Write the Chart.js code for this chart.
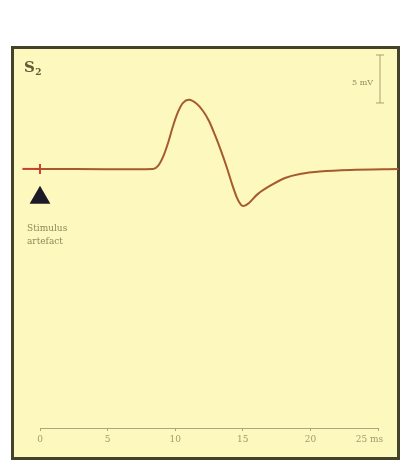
<!DOCTYPE html>
<html>
<head>
<meta charset="utf-8">
<script src="https://cdn.jsdelivr.net/npm/chart.js@4.4.1/dist/chart.umd.min.js"></script>
<style>
  html, body { margin: 0; padding: 0; background: #ffffff; }
  #wrap { width: 401px; height: 461px; position: relative; }
</style>
</head>
<body>
<div id="wrap"><canvas id="c"></canvas></div>
<script>
// ---- data ----
const timeMs    = [-1.3, 0, 8.36, 8.73, 9.1, 9.47, 9.84, 10.21, 10.58, 11.02, 11.61, 12.06, 12.5, 12.94, 13.39, 13.83, 14.2, 14.57, 14.87, 15.09, 15.46, 16.12, 17.0, 18.12, 19.23, 20.7, 22.93, 26.5];
const amplitude = [0, 0, 0, 0.31, 1.25, 2.71, 4.48, 5.94, 6.88, 7.2, 6.77, 6.04, 5.0, 3.54, 1.88, 0.1, -1.56, -3.02, -3.75, -3.85, -3.54, -2.6, -1.77, -0.94, -0.52, -0.26, -0.1, 0];
const artefactTime = [0];
const artefactAmp  = [0];
const markerAmp    = [-3.0];
const scaleBarMv   = [6.875, 11.875];   // a 5 mV calibration bar
const xTicks       = [0, 5, 10, 15, 20, 25];
const xTickLabels  = ['0', '5', '10', '15', '20', '25 ms      '];

// ---- layout constants ----
const BAR_X = 25.15;
const BG = '#fdf8bd';
const FRAME = '#44422a';
const AXIS = '#aaa87a';
const TXT = '#8c8a5a';

const trace = timeMs.map((t, i) => ({ x: t, y: amplitude[i] }));
const artefact = artefactTime.map((t, i) => ({ x: t, y: artefactAmp[i] }));
const marker = artefactTime.map((t, i) => ({ x: t, y: markerAmp[i] }));
const bar = scaleBarMv.map(v => ({ x: BAR_X, y: v }));

const framePlugin = {
  id: 'frame',
  beforeDraw(chart) {
    const ctx = chart.ctx;
    ctx.save();
    ctx.fillStyle = '#ffffff';
    ctx.fillRect(0, 0, chart.width, chart.height);
    ctx.fillStyle = BG;
    ctx.fillRect(12, 47, 387, 412);
    ctx.strokeStyle = FRAME;
    ctx.lineWidth = 3;
    ctx.strokeRect(12.5, 47.5, 386, 411);
    ctx.restore();
  },
  afterDraw(chart) {
    const ctx = chart.ctx;
    ctx.save();
    ctx.textBaseline = 'alphabetic';
    ctx.textAlign = 'left';
    // S2 panel label
    ctx.fillStyle = '#5e5c36';
    ctx.font = 'bold 15px "DejaVu Serif"';
    ctx.fillText('S', 24, 72);
    const w = ctx.measureText('S').width;
    ctx.font = 'bold 9px "DejaVu Serif"';
    ctx.fillText('2', 24 + w + 0.5, 75);
    // 5 mV
    ctx.fillStyle = TXT;
    ctx.font = '8px "DejaVu Serif"';
    ctx.textAlign = 'right';
    ctx.fillText('5 mV', 373, 85);
    // Stimulus artefact
    ctx.textAlign = 'left';
    ctx.font = '9px "DejaVu Serif"';
    ctx.fillText('Stimulus', 27, 231);
    ctx.fillText('artefact', 27, 244);
    ctx.restore();
  }
};

new Chart(document.getElementById('c'), {
  type: 'line',
  data: {
    datasets: [
      {
        label: 'trace',
        data: trace,
        borderColor: '#a65a30',
        borderWidth: 2,
        pointRadius: 0,
        tension: 0.3,
        clip: false,
        segment: {
          borderColor: c => (c.p1DataIndex <= 1 ? '#c0442c' : undefined)
        }
      },
      {
        label: 'artefact',
        data: artefact,
        showLine: false,
        pointStyle: 'cross',
        pointRadius: 5,
        pointBorderWidth: 2,
        pointBorderColor: '#d8402e',
        clip: false
      },
      {
        label: 'marker',
        data: marker,
        showLine: false,
        pointStyle: 'triangle',
        pointRadius: 12,
        pointBorderWidth: 0,
        pointBackgroundColor: '#1c1a26',
        pointBorderColor: '#1c1a26',
        clip: false
      },
      {
        label: 'scale',
        data: bar,
        borderColor: '#a4a272',
        borderWidth: 1,
        pointStyle: 'line',
        pointRadius: 4,
        pointBorderWidth: 1,
        pointBorderColor: '#a4a272',
        clip: false
      }
    ]
  },
  options: {
    responsive: true,
    maintainAspectRatio: false,
    animation: false,
    events: [],
    layout: { padding: { left: 40, right: 23, top: 49, bottom: 0 } },
    plugins: { legend: { display: false }, tooltip: { enabled: false }, title: { display: false } },
    scales: {
      x: {
        type: 'linear',
        position: 'bottom',
        bounds: 'data',
        afterDataLimits: s => { s.min = 0; s.max = 25; },
        afterBuildTicks: s => { s.ticks = xTicks.map(v => ({ value: v })); s.min = 0; s.max = 25; },
        afterFit: s => { s.height = 33; s.paddingLeft = 0; s.paddingRight = 0; },
        border: { display: true, color: AXIS, width: 1 },
        grid: { drawOnChartArea: false, drawTicks: true, tickLength: 3, color: AXIS, lineWidth: 1 },
        ticks: {
          autoSkip: false,
          maxRotation: 0,
          minRotation: 0,
          padding: 3,
          color: '#9e9c6e',
          font: { family: '"DejaVu Serif"', size: 9 },
          callback: (v) => { const i = xTicks.indexOf(v); return i >= 0 ? xTickLabels[i] : ''; }
        }
      },
      y: {
        type: 'linear',
        display: false,
        min: -27,
        max: 12.5
      }
    }
  },
  plugins: [framePlugin]
});
</script>
</body>
</html>
